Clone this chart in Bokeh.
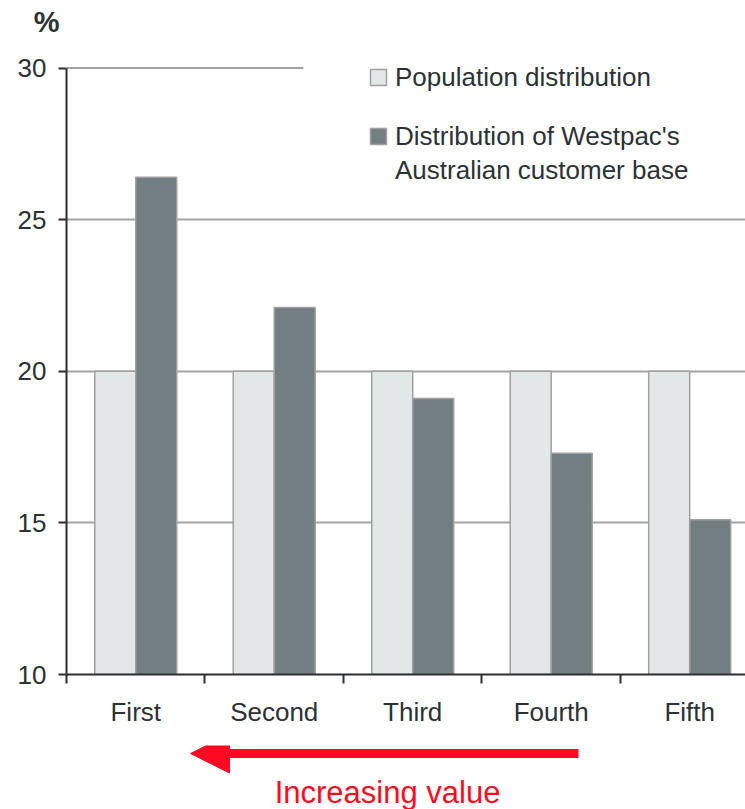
from bokeh.plotting import figure
from bokeh.layouts import column
from bokeh.models import (Range1d, FixedTicker, Legend, LegendItem, Label,
                          Arrow, NormalHead, ColumnDataSource)
from bokeh.transform import dodge
from bokeh.embed import file_html
from bokeh.resources import INLINE

# Income quintiles and shares (%)
quintiles = ["First", "Second", "Third", "Fourth", "Fifth"]
population_share = [20, 20, 20, 20, 20]
westpac_share = [26.4, 22.1, 19.1, 17.3, 15.1]
y_ticks = [10, 15, 20, 25, 30]
legend_lines = ["Population distribution",
                "Distribution of Westpac's",
                "Australian customer base"]

FONT = "Liberation Sans"
TEXT = "#2b3234"
AXIS = "#2b2f31"
GRID = "#a3a3a3"
LIGHT = "#e2e7e7"
DARK = "#737e82"
EDGE = "#a0a0a0"
RED = "#ff0a22"

W = 745
LEFT = 66
HEAD_H = 40          # strip holding the "%" unit marker
FRAME_TOP = 63
FRAME_BOTTOM = 674
MAIN_BOTTOM = 745
X_END = 4.903


def strip(height, y_axis=None):
    """Blank strip sharing the chart's left border, pixel-based top-down y scale."""
    f = figure(width=W, height=height, x_range=Range1d(LEFT, W),
               y_range=Range1d(height, 0),
               output_backend="svg", toolbar_location=None,
               x_axis_location=None, y_axis_location=y_axis,
               min_border_left=LEFT, min_border_right=0,
               min_border_top=0, min_border_bottom=0)
    f.outline_line_color = None
    f.grid.visible = False
    f.background_fill_color = "white"
    f.border_fill_color = "white"
    return f


# header: "%" unit marker, set as the single label of a bare left axis
head = strip(HEAD_H, y_axis="left")
hax = head.yaxis[0]
unit_pos = 27
hax.ticker = FixedTicker(ticks=[unit_pos])
hax.major_label_overrides = {unit_pos: "%"}
hax.axis_line_color = None
hax.major_tick_line_color = None
hax.minor_tick_line_color = None
hax.major_tick_out = 0
hax.major_tick_in = 0
hax.major_label_standoff = 7
hax.major_label_text_font = FONT
hax.major_label_text_font_size = "29px"
hax.major_label_text_font_style = "bold"
hax.major_label_text_color = TEXT

centers = [i + 0.5 for i in range(len(quintiles))]
source = ColumnDataSource(dict(x=centers, quintile=quintiles,
                               population=population_share,
                               westpac=westpac_share))

MAIN_H = MAIN_BOTTOM - HEAD_H
p = figure(width=W, height=MAIN_H,
           x_range=Range1d(0, X_END), y_range=Range1d(10, 30.15),
           output_backend="svg", toolbar_location=None,
           min_border_left=LEFT, min_border_right=0,
           min_border_top=FRAME_TOP - HEAD_H,
           min_border_bottom=MAIN_BOTTOM - FRAME_BOTTOM)
p.outline_line_color = None
p.background_fill_color = "white"
p.border_fill_color = "white"

# grid: horizontal rules only; the top rule stops short of the legend
p.xgrid.visible = False
p.ygrid.ticker = FixedTicker(ticks=[15, 20, 25])
p.ygrid.grid_line_color = GRID
p.ygrid.grid_line_width = 2
top_rule_end = 1.71
p.segment(x0=0, y0=y_ticks[-1], x1=top_rule_end, y1=y_ticks[-1],
          line_color=GRID, line_width=2)

bar_w = 0.296
r_pop = p.vbar(x=dodge("x", -0.148, range=p.x_range), top="population",
               bottom=y_ticks[0], width=bar_w, source=source,
               fill_color=LIGHT, line_color=EDGE, line_width=1.5)
r_wbc = p.vbar(x=dodge("x", 0.148, range=p.x_range), top="westpac",
               bottom=y_ticks[0], width=bar_w, source=source,
               fill_color=DARK, line_color=EDGE, line_width=1.5)
# empty, transparent renderer used to carry the legend's wrapped second line
r_wrap = p.vbar(x=[], top=[], width=bar_w, fill_alpha=0, line_alpha=0)

# y axis
yax = p.yaxis[0]
yax.ticker = FixedTicker(ticks=y_ticks)
yax.bounds = (y_ticks[0], y_ticks[-1])
yax.axis_line_color = AXIS
yax.axis_line_width = 2
yax.major_tick_line_color = AXIS
yax.major_tick_line_width = 2
yax.major_tick_out = 8
yax.major_tick_in = 0
yax.minor_tick_line_color = None
yax.major_label_standoff = 12
yax.major_label_text_font = FONT
yax.major_label_text_font_size = "26px"
yax.major_label_text_color = TEXT

# x axis: labels at the group centres, ticks between groups
xax = p.xaxis[0]
xax.ticker = FixedTicker(ticks=centers,
                         minor_ticks=list(range(len(quintiles) + 1)))
xax.major_label_overrides = {c: q for c, q in zip(centers, quintiles)}
xax.axis_line_color = AXIS
xax.axis_line_width = 2
xax.major_tick_line_color = None
xax.major_tick_out = 0
xax.major_tick_in = 0
xax.minor_tick_line_color = AXIS
xax.minor_tick_line_width = 2
xax.minor_tick_out = 9
xax.minor_tick_in = 0
xax.major_label_standoff = 13
xax.major_label_text_font = FONT
xax.major_label_text_font_size = "26px"
xax.major_label_text_color = TEXT

legend_style = dict(padding=0, margin=0, glyph_width=20, glyph_height=20,
                    label_standoff=7, label_height=32, label_text_font=FONT,
                    label_text_font_size="26px", label_text_color=TEXT,
                    background_fill_alpha=0, border_line_alpha=0)
legend_pop = Legend(items=[LegendItem(label=legend_lines[0], renderers=[r_pop])],
                    location=(302, 581), **legend_style)
legend_wbc = Legend(items=[LegendItem(label=legend_lines[1], renderers=[r_wbc]),
                           LegendItem(label=legend_lines[2], renderers=[r_wrap])],
                    location=(302, 488), spacing=2, **legend_style)
p.add_layout(legend_pop)
p.add_layout(legend_wbc)

# footer: direction arrow and caption
foot = strip(809 - MAIN_BOTTOM)


def fy(py):
    return py - MAIN_BOTTOM


foot.add_layout(Arrow(x_start=578, y_start=fy(753), x_end=190, y_end=fy(753),
                      line_color=RED, line_width=9,
                      end=NormalHead(size=39, fill_color=RED, line_color=RED,
                                     line_width=1)))
foot.add_layout(Label(x=387, y=fy(792), text="Increasing value",
                      text_align="center", text_baseline="alphabetic",
                      text_font=FONT, text_font_size="31px", text_color=RED))

layout = column(head, p, foot, spacing=0)
open("out.html", "w").write(file_html(layout, INLINE))
